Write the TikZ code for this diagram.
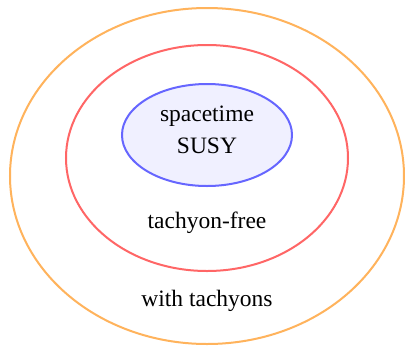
\documentclass[tikz,border=0pt]{standalone}
\usepackage{fontspec}
\setmainfont{Liberation Serif}
\usetikzlibrary{shapes.geometric}
\definecolor{ringorange}{HTML}{FFB35C}
\definecolor{ringred}{HTML}{FF6666}
\definecolor{ringblue}{HTML}{6666FF}
\definecolor{susyfill}{HTML}{F0F0FF}
\begin{document}
\begin{tikzpicture}[x=1bp,y=-1bp,
  region/.style={ellipse, line width=2bp, inner sep=0pt},
  label/.style={anchor=base, inner sep=0pt, font=\fontsize{23.5bp}{31.5bp}\selectfont, align=center}]
  \useasboundingbox[fill=white] (0,0) rectangle (405,346);
  % nested regions
  \node[region, draw=ringorange, minimum width=394bp, minimum height=336bp] (outer) at (207,176) {};
  \node[region, draw=ringred, minimum width=282bp, minimum height=226bp] (middle) at (207,158) {};
  \node[region, draw=ringblue, fill=susyfill, minimum width=170bp, minimum height=102bp] (inner) at (207,135) {};
  % region labels
  \node[label] (susy) at (207,153.3) {spacetime\\SUSY};
  \node[label] (free) at (207,228.3) {tachyon-free};
  \node[label] (tach) at (207,306.7) {with tachyons};
\end{tikzpicture}
\end{document}
